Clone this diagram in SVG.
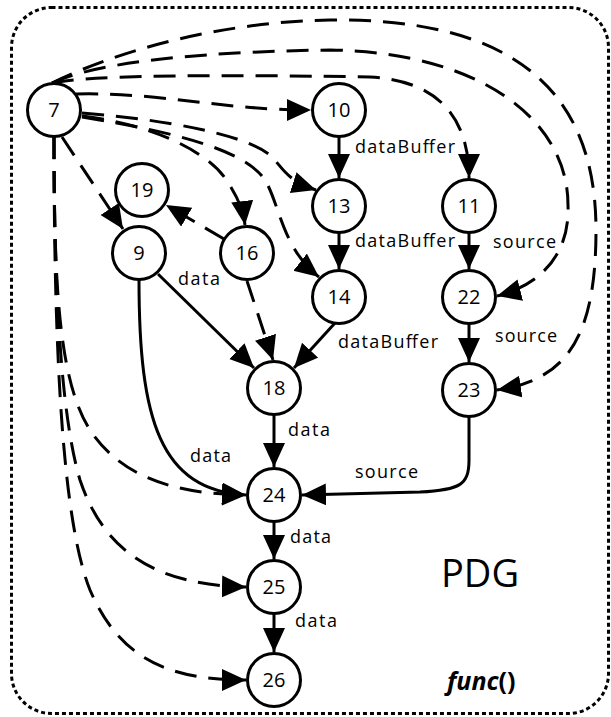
<svg xmlns="http://www.w3.org/2000/svg" width="611" height="717" viewBox="0 0 611 717">
  <style>
    .frame { fill: none; stroke: #000; stroke-width: 3; stroke-dasharray: 4 3; }
    .node circle { fill: #fff; stroke: #000; stroke-width: 3; }
    .node text { font-family: "Open Sans", "Liberation Sans", sans-serif; font-size: 20px; text-anchor: middle; fill: #000; }
    .solid { fill: none; stroke: #000; stroke-width: 3; marker-end: url(#ah); }
    .dash { fill: none; stroke: #000; stroke-width: 3; stroke-dasharray: 22 12; marker-end: url(#ah); }
    .lbl { font-family: "Open Sans", "Liberation Sans", sans-serif; font-size: 18px; fill: #000; }
    .title { font-family: "Open Sans", "Liberation Sans", sans-serif; font-size: 38px; fill: #000; }
    .fn { font-family: "Open Sans", "Liberation Sans", sans-serif; font-size: 25px; font-weight: bold; fill: #000; }
  </style>
  <defs>
    <marker id="ah" markerWidth="26" markerHeight="24" refX="24" refY="11" orient="auto" markerUnits="userSpaceOnUse">
      <path d="M0,0 L24,11 L0,22 z" fill="#000"/>
    </marker>
  </defs>

  <!-- function boundary -->
  <rect class="frame" x="11.5" y="7.5" width="597" height="706" rx="40" ry="40"/>

  <g id="edges">
    <!-- data dependencies -->
    <path class="solid" d="M339,137 L339,178"/>
    <path class="solid" d="M339,233 L339,269"/>
    <path class="solid" d="M469,233 L469,269"/>
    <path class="solid" d="M469,324 L469,362"/>
    <path class="solid" d="M158,274 L254,368"/>
    <path class="solid" d="M335,323 L294,368"/>
    <path class="solid" d="M274,415 L274,467"/>
    <path class="solid" d="M274,522 L274,559"/>
    <path class="solid" d="M274,614 L274,652"/>
    <path class="solid" d="M139,280 C139,420 160,490 246,495"/>
    <path class="solid" d="M469,417 L469,460 C469,485 460,490 420,492 L302,495"/>

    <!-- control dependencies -->
    <path class="dash" d="M76,94 C160,92 220,110 311,110"/>
    <path class="dash" d="M82,113 C170,120 245,135 270,155 C282,166 285,180 316,190"/>
    <path class="dash" d="M82,116 C150,124 205,150 225,178 C236,194 243,208 245,225"/>
    <path class="dash" d="M82,117 C175,132 245,150 265,180 C280,205 282,248 319,277"/>
    <path class="dash" d="M62,137 L123,229"/>
    <path class="dash" d="M224,239 L166,205"/>
    <path class="dash" d="M247,281 L273,360"/>
    <path class="dash" d="M52,83 C90,74 250,75 370,77 C430,80 469,110 469,178"/>
    <path class="dash" d="M52,83 C90,65 180,52 330,50 C480,52 568,120 568,205 C570,255 540,285 497,296"/>
    <path class="dash" d="M52,83 C120,50 220,22 330,20 C500,18 596,80 596,230 C596,340 565,380 497,390"/>
    <path class="dash" d="M54,137 C54,280 58,380 90,430 C120,475 170,494 246,495"/>
    <path class="dash" d="M54,137 C54,300 62,420 80,480 C105,555 160,585 246,587"/>
    <path class="dash" d="M54,137 C54,350 62,520 90,590 C120,660 170,680 246,680"/>
  </g>

  <g id="n7" class="node"><circle cx="54" cy="110" r="26.5"/><text x="54" y="117">7</text></g>
  <g id="n10" class="node"><circle cx="339" cy="110" r="26.5"/><text x="339" y="117">10</text></g>
  <g id="n13" class="node"><circle cx="339" cy="206" r="26.5"/><text x="339" y="213">13</text></g>
  <g id="n14" class="node"><circle cx="339" cy="297" r="26.5"/><text x="339" y="304">14</text></g>
  <g id="n11" class="node"><circle cx="469" cy="206" r="26.5"/><text x="469" y="213">11</text></g>
  <g id="n22" class="node"><circle cx="469" cy="297" r="26.5"/><text x="469" y="304">22</text></g>
  <g id="n23" class="node"><circle cx="469" cy="390" r="26.5"/><text x="469" y="397">23</text></g>
  <g id="n19" class="node"><circle cx="142" cy="190" r="26.5"/><text x="142" y="197">19</text></g>
  <g id="n9" class="node"><circle cx="139" cy="253" r="26.5"/><text x="139" y="260">9</text></g>
  <g id="n16" class="node"><circle cx="247" cy="253" r="26.5"/><text x="247" y="260">16</text></g>
  <g id="n18" class="node"><circle cx="274" cy="388" r="26.5"/><text x="274" y="395">18</text></g>
  <g id="n24" class="node"><circle cx="274" cy="495" r="26.5"/><text x="274" y="502">24</text></g>
  <g id="n25" class="node"><circle cx="274" cy="587" r="26.5"/><text x="274" y="594">25</text></g>
  <g id="n26" class="node"><circle cx="274" cy="680" r="26.5"/><text x="274" y="687">26</text></g>

  <g id="labels">
    <text class="lbl" x="355" y="153" textLength="100" lengthAdjust="spacing">dataBuffer</text>
    <text class="lbl" x="355" y="247" textLength="100" lengthAdjust="spacing">dataBuffer</text>
    <text class="lbl" x="338" y="348" textLength="100" lengthAdjust="spacing">dataBuffer</text>
    <text class="lbl" x="493" y="248" textLength="63" lengthAdjust="spacing">source</text>
    <text class="lbl" x="495" y="342" textLength="62" lengthAdjust="spacing">source</text>
    <text class="lbl" x="355" y="478" textLength="63" lengthAdjust="spacing">source</text>
    <text class="lbl" x="178" y="285" textLength="42" lengthAdjust="spacing">data</text>
    <text class="lbl" x="288" y="436" textLength="42" lengthAdjust="spacing">data</text>
    <text class="lbl" x="190" y="462" textLength="41" lengthAdjust="spacing">data</text>
    <text class="lbl" x="290" y="543" textLength="41" lengthAdjust="spacing">data</text>
    <text class="lbl" x="295" y="627" textLength="42" lengthAdjust="spacing">data</text>
    <text class="title" x="441" y="587">PDG</text>
    <text class="fn" x="447" y="690"><tspan font-style="italic">func</tspan>()</text>
  </g>
</svg>
